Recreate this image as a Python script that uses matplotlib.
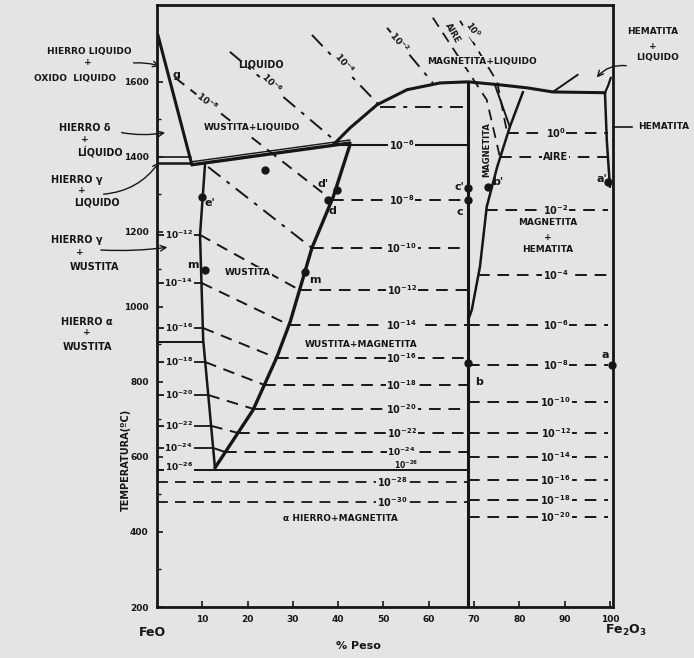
import numpy as np
import matplotlib.pyplot as plt

# ejes: % peso de Fe2O3 y temperatura (ºC)
wt_ticks = [10, 20, 30, 40, 50, 60, 70, 80, 90, 100]
wt_labels = ["10", "20", "30", "40", "50", "60", "70", "80", "90", "100"]
temp_ticks = [200, 400, 600, 800, 1000, 1200, 1400, 1600]

liq_fe_wt = [0.2, 7.7]
liq_fe_t = [1725, 1379]
solidus_wt = [7.7, 42.6]
solidus_t = [1379, 1437]
delta_t = 1400
gamma_liq_t = 1384
hierro_wt = [0, 7.5]

wus_left_wt = [12.8, 10.2, 9.5, 10.6]
wus_left_t = [571, 912, 1192, 1379]
wus_right_wt = [12.8, 21.2, 26.5, 29.4, 34.2, 38.9, 42.6]
wus_right_t = [571, 725, 867, 960, 1157, 1293, 1432]

arc_wt = [38.9, 42.6, 48.6, 55.2, 62.5, 68.7, 75.7, 81.7, 87.4, 98.9]
arc_t = [1432, 1477, 1539, 1579, 1597, 1600, 1592, 1584, 1573, 1571]
arc_tail_wt = [87.4, 92.9]
arc_tail_t = [1573, 1619]

hem_liq_wt = [98.9, 99.6, 100.2]
hem_liq_t = [1571, 1590, 1611]
hem_wt = [98.9, 99.3, 100.0]
hem_t = [1571, 1445, 1320]

magnetita_wt = 68.7
mag_a_wt = [74.6, 77.9]
mag_a_t = [1592, 1480]
mag_hem_wt = [68.7, 69.5, 71.3, 72.8, 75.1, 77.9, 80.8]
mag_hem_t = [965, 992, 1107, 1267, 1373, 1480, 1573]

eutectoide_t = 565
alfa_gamma_t = 907

# isobaras de oxigeno en el campo de wustita
wus_exp = [-12, -14, -16, -18, -20, -22, -24]
wus_t_left = [1192, 1064, 944, 853, 765, 683, 624]
wus_t_right = [1045, 952, 864, 792, 728, 664, 613]

# isobaras altas (liquido)
iso8_wt = [4.0, 38.6]
iso8_t = [1611, 1285]
iso10_wt = [11.3, 34.2]
iso10_t = [1373, 1157]
iso6_wt = [16.1, 40.4]
iso6_t = [1680, 1432]
iso4_wt = [34.2, 49.2]
iso4_t = [1725, 1536]
iso4_flat_t = 1533
iso2_wt = [50.8, 60.9]
iso2_t = [1744, 1597]
aire_wt = [60.9, 72.8, 75.7]
aire_t = [1771, 1552, 1400]
cero_wt = [66.9, 75.1, 77.3]
cero_t = [1763, 1600, 1464]

# bajo el eutectoide
low_exp = [-28, -30]
low_t = [533, 480]

# campo magnetita + hematita
hem_labels = [r"$10^{0}$", "AIRE", r"$10^{-2}$", r"$10^{-4}$", r"$10^{-6}$", r"$10^{-8}$",
              r"$10^{-10}$", r"$10^{-12}$", r"$10^{-14}$", r"$10^{-16}$", r"$10^{-18}$", r"$10^{-20}$"]
hem_iso_t = [1464, 1400, 1259, 1085, 952, 845, 747, 664, 600, 539, 485, 440]

# puntos marcados
pt_names = ["e'", "", "d'", "d", "c'", "c", "b'", "b", "a'", "a", "m", "m"]
pt_wt = [9.9, 23.8, 39.7, 37.7, 68.7, 68.7, 73.1, 68.7, 99.6, 100.4, 10.6, 32.7]
pt_t = [1293, 1365, 1312, 1285, 1317, 1285, 1320, 851, 1333, 845, 1099, 1093]
pt_off = [(8, -6), (0, 0), (-14, 6), (5, -11), (-9, 1), (-8, -12), (10, 5), (11, -19),
          (-6, 3), (-7, 10), (-12, 5), (10, -8)]

bg = "#e4e4e4"
ink = "#161616"
plt.rcParams["font.family"] = ["DejaVu Sans"]
plt.rcParams["font.weight"] = "bold"
plt.rcParams["mathtext.default"] = "bf"

fig = plt.figure(figsize=(6.94, 6.58), dpi=100, facecolor=bg)
ax = fig.add_axes([0.2262, 0.0775, 0.657, 0.915], facecolor=bg)
ax.set_xlim(0, 100.66)
ax.set_ylim(200, 1805)

dash = (0, (6, 4))
dashdot = (0, (8, 4, 2, 4))
box = dict(fc=bg, ec="none", pad=0.6)


def line(xs, ts, ls="-", lw=1.8):
    ax.plot(xs, ts, color=ink, lw=lw, ls=ls, solid_capstyle="round")


def tag(x, t, s, size=7, rot=0, masked=True, **kw):
    ax.text(x, t, s, fontsize=size, rotation=rot, ha="center", va="center",
            color=ink, bbox=box if masked else None, clip_on=False, **kw)


# fronteras principales
line(liq_fe_wt, liq_fe_t, lw=2.2)
line(solidus_wt, solidus_t, lw=2.4)
line(solidus_wt, np.array(solidus_t) + 8, lw=1.0)
line(hierro_wt, [delta_t, delta_t], lw=1.2)
line(hierro_wt, [gamma_liq_t, gamma_liq_t], lw=1.8)
line(wus_left_wt, wus_left_t, lw=1.8)
line(wus_right_wt, wus_right_t, lw=2.4)
line(arc_wt, arc_t, lw=2.2)
line(arc_tail_wt, arc_tail_t, lw=1.4)
line(hem_liq_wt, hem_liq_t, lw=1.6)
line(hem_wt, hem_t, lw=1.8)
line([magnetita_wt, magnetita_wt], [200, 1600], lw=2.2)
line(mag_a_wt, mag_a_t, lw=1.4)
line(mag_hem_wt, mag_hem_t, lw=1.8)
line([0, magnetita_wt], [eutectoide_t, eutectoide_t], lw=1.4)
line([0, np.interp(alfa_gamma_t, wus_left_t, wus_left_wt)], [alfa_gamma_t] * 2, lw=1.4)

# isobaras que cruzan la wustita
lab_wt = 54
for e, t0, t1 in zip(wus_exp, wus_t_left, wus_t_right):
    x0 = np.interp(t0, wus_left_t, wus_left_wt)
    x1 = np.interp(t1, wus_right_t, wus_right_wt)
    line([0, x0], [t0, t0], lw=1.3)
    line([x0, x1], [t0, t1], ls=dash, lw=1.4)
    line([x1, magnetita_wt], [t1, t1], ls=dash, lw=1.4)
    tag(4.8, t0, r"$10^{%d}$" % e, size=6.5)
    tag(lab_wt, t1, r"$10^{%d}$" % e, size=6.5 if e == -24 else 7)
tag(4.8, eutectoide_t + 10, r"$10^{-26}$", size=6.5)
tag(55, 580, r"$10^{-26}$", size=5.5, masked=False)

# isobaras superiores
line(iso8_wt, iso8_t, ls=dash, lw=1.4)
x8 = np.interp(iso8_t[1], wus_right_t, wus_right_wt)
line([x8, magnetita_wt], [iso8_t[1]] * 2, ls=dash, lw=1.4)
tag(lab_wt, iso8_t[1], r"$10^{-8}$")
tag(11.0, 1547, r"$10^{-8}$", size=6.5, rot=-38)

line(iso10_wt, iso10_t, ls=dashdot, lw=1.4)
line([iso10_wt[1], magnetita_wt], [iso10_t[1]] * 2, ls=dash, lw=1.4)
tag(lab_wt, iso10_t[1], r"$10^{-10}$")

line(iso6_wt, iso6_t, ls=dashdot, lw=1.4)
line([iso6_wt[1], magnetita_wt], [iso6_t[1]] * 2, lw=1.5)
tag(lab_wt, iso6_t[1], r"$10^{-6}$")
tag(25.4, 1597, r"$10^{-6}$", size=6.5, rot=-45)

line(iso4_wt, iso4_t, ls=dashdot, lw=1.4)
line([iso4_wt[1], 67.5], [iso4_flat_t] * 2, ls=dashdot, lw=1.4)
tag(41.3, 1650, r"$10^{-4}$", size=6.5, rot=-50)

line(iso2_wt, iso2_t, ls=dashdot, lw=1.4)
tag(53.6, 1707, r"$10^{-2}$", size=6.5, rot=-50)

line(aire_wt, aire_t, ls=dash, lw=1.3)
line(cero_wt, cero_t, ls=dash, lw=1.3)
tag(65.3, 1731, "AIRE", size=6, rot=-60)
tag(69.8, 1738, r"$10^{0}$", size=6, rot=-55)

# bajo el eutectoide
for e, t in zip(low_exp, low_t):
    line([0, magnetita_wt], [t, t], ls=dash, lw=1.3)
    tag(52, t, r"$10^{%d}$" % e)

# magnetita + hematita
mh_t = mag_hem_t
mh_wt = mag_hem_wt
for s, t in zip(hem_labels, hem_iso_t):
    x0 = np.interp(t, mh_t, mh_wt) if t >= mh_t[0] else magnetita_wt
    if s in (r"$10^{0}$", "AIRE"):
        x0 = np.interp(t, aire_t[::-1], aire_wt[::-1]) if s == "AIRE" else cero_wt[-1]
    line([x0, 99.6], [t, t], ls=dash, lw=1.4)
    tag(88, t, s, size=7)

# puntos
for name, x, t, off in zip(pt_names, pt_wt, pt_t, pt_off):
    ax.plot(x, t, "o", color=ink, ms=5, clip_on=False)
    if name:
        ax.annotate(name, (x, t), xytext=off, textcoords="offset pixels",
                    fontsize=8, ha="center", va="center", color=ink)
ax.text(4.2, 1619, "g", fontsize=8, color=ink, ha="center", va="center")

# nombres de campos
tag(23.0, 1645, "LIQUIDO", size=7, masked=False)
tag(21.0, 1477, "WUSTITA+LIQUIDO", size=6.5)
tag(20.1, 1091, "WUSTITA", size=6.5)
tag(45.0, 899, "WUSTITA+MAGNETITA", size=6.5)
tag(71.7, 1655, "MAGNETITA+LIQUIDO", size=6.5)
tag(72.8, 1419, "MAGNETITA", size=6, rot=90)
tag(86.3, 1224, "MAGNETITA", size=6.5)
tag(86.3, 1186, "+", size=6.5, masked=False)
tag(86.3, 1152, "HEMATITA", size=6.5)
tag(40.4, 437, "α HIERRO+MAGNETITA", size=6.5, masked=False)

# textos fuera de los ejes
tag(-15.0, 1682, "HIERRO LIQUIDO", size=6.5, masked=False)
tag(-15.2, 1652, "+", size=6.5, masked=False)
tag(-18.0, 1610, "OXIDO  LIQUIDO", size=6.5, masked=False)
tag(-15.9, 1477, "HIERRO δ", size=7, masked=False)
tag(-15.9, 1447, "+", size=6.5, masked=False)
tag(-12.6, 1413, "LÍQUIDO", size=7, masked=False)
tag(-17.7, 1339, "HIERRO γ", size=7, masked=False)
tag(-16.7, 1310, "+", size=6.5, masked=False)
tag(-13.2, 1277, "LIQUIDO", size=7, masked=False)
tag(-17.7, 1179, "HIERRO γ", size=7, masked=False)
tag(-17.0, 1144, "+", size=6.5, masked=False)
tag(-13.9, 1107, "WUSTITA", size=7, masked=False)
tag(-15.4, 960, "HIERRO α", size=7, masked=False)
tag(-15.4, 931, "+", size=6.5, masked=False)
tag(-15.4, 893, "WUSTITA", size=7, masked=False)
tag(109.5, 1733, "HEMATITA", size=6.5, masked=False)
tag(109.5, 1695, "+", size=6.5, masked=False)
tag(110.6, 1664, "LIQUIDO", size=6.5, masked=False)
tag(111.9, 1480, "HEMATITA", size=6.5, masked=False)
ax.plot([100.7, 104.9], [1480, 1480], color=ink, lw=1.2, clip_on=False)

arrows = [((-5.8, 1650), (1.2, 1640), -0.1), ((-8.4, 1466), (2.4, 1466), 0.1),
          ((-12.4, 1300), (0.8, 1392), 0.25), ((-13.0, 1152), (2.9, 1160), 0.05),
          ((104.2, 1642), (96.7, 1606), 0.3)]
for start, end, rad in arrows:
    ax.annotate("", xy=end, xytext=start, annotation_clip=False,
                arrowprops=dict(arrowstyle="->", color=ink, lw=1.0,
                                connectionstyle="arc3,rad=%.2f" % rad))

ax.text(-6.8, 592, "TEMPERATURA(ºC)", rotation=90, fontsize=7, ha="center",
        va="center", color=ink, clip_on=False)
ax.text(-1.0, 133, "FeO", fontsize=9, ha="center", va="center", color=ink, clip_on=False)
ax.text(103.4, 137, r"Fe$_2$O$_3$", fontsize=9, ha="center", va="center", color=ink,
        clip_on=False)
ax.text(44.4, 96, "% Peso", fontsize=8, ha="center", va="center", color=ink, clip_on=False)

# ejes y marcos
ax.set_xticks(wt_ticks)
ax.set_xticklabels(wt_labels, fontsize=6.5, fontweight="bold")
ax.set_yticks(temp_ticks)
ax.set_yticklabels([str(t) for t in temp_ticks], fontsize=6.5, fontweight="bold")
ax.set_yticks(np.arange(300, 1800, 100), minor=True)
ax.tick_params(direction="in", length=4, width=1.2, colors=ink, pad=6)
ax.tick_params(which="minor", direction="in", length=3, width=1.0, colors=ink)
for sp in ax.spines.values():
    sp.set_linewidth(2.0)
    sp.set_color(ink)

fig.savefig("out.png", dpi=100, facecolor=bg)
